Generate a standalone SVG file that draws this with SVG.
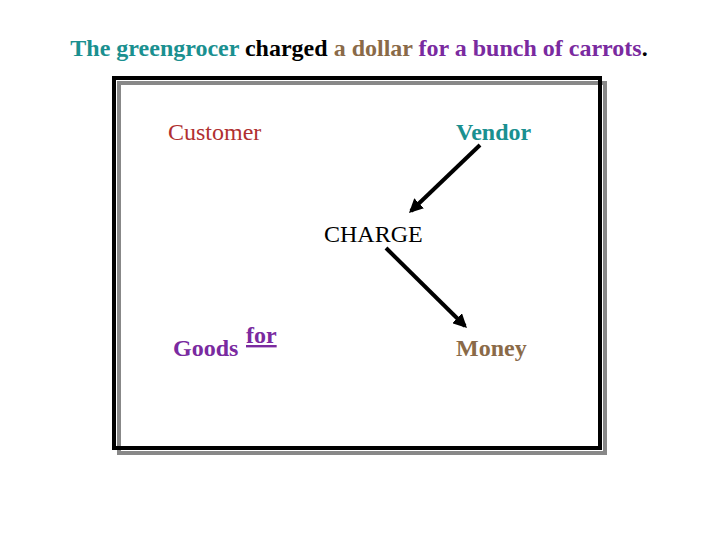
<svg xmlns="http://www.w3.org/2000/svg" width="720" height="540" viewBox="0 0 720 540">
<style>
text{font-family:"Liberation Serif","Times New Roman",serif;font-size:24px}
.b{font-weight:bold}
.c{stroke:#000;stroke-width:4;fill:none;marker-end:url(#ah)}
</style>
<defs><marker id="ah" viewBox="0 0 10 10" refX="8" refY="5" markerWidth="3.5" markerHeight="3.5" orient="auto"><path d="M0,0L10,5L0,10z" fill="#000"/></marker></defs>
<rect width="720" height="540" fill="#fff"/>
<text x="359" y="56" text-anchor="middle" class="b" font-size="23"><tspan fill="#1a9090">The greengrocer</tspan> <tspan fill="#000">charged</tspan> <tspan fill="#8a6a48">a dollar</tspan> <tspan fill="#7a2aa0">for a bunch of carrots</tspan><tspan fill="#000">.</tspan></text>
<rect x="119" y="83" width="486" height="370" fill="none" stroke="#888" stroke-width="4"/>
<rect x="114" y="78" width="486" height="370" fill="none" stroke="#000" stroke-width="4"/>
<g id="customer"><text x="168" y="140" fill="#b03030">Customer</text></g>
<g id="vendor"><text x="456" y="140" class="b" fill="#1a9090">Vendor</text></g>
<g id="charge"><text x="324" y="242" fill="#000">CHARGE</text></g>
<g id="goods"><text x="173" y="356" class="b" fill="#7a2aa0">Goods</text><text x="246" y="343" class="b" fill="#7a2aa0" text-decoration="underline">for</text></g>
<g id="money"><text x="456" y="356" class="b" fill="#8a6a48">Money</text></g>
<g id="connectors">
<line class="c" x1="480" y1="145" x2="411" y2="211"/>
<line class="c" x1="386" y1="248" x2="465" y2="326"/>
</g>
</svg>
